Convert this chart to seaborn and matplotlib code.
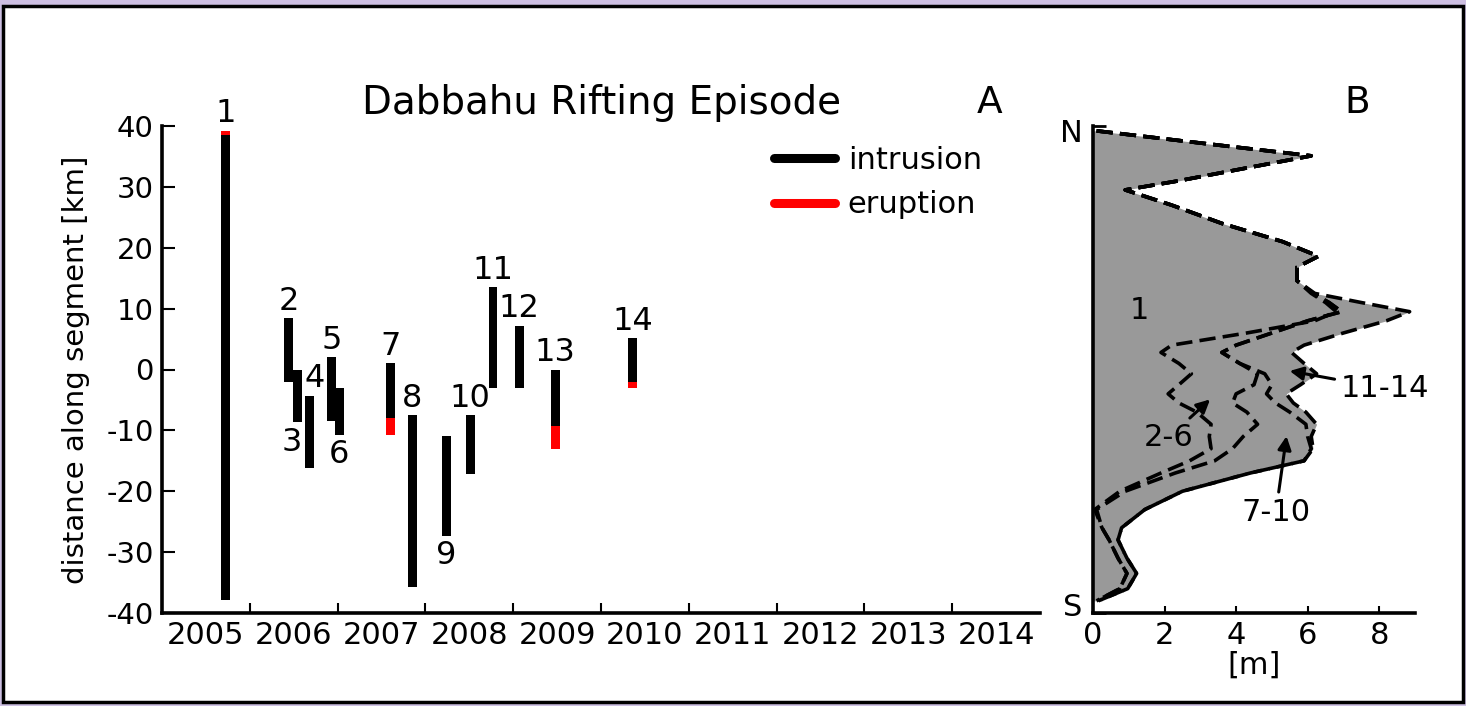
import numpy as np
import matplotlib
matplotlib.use('Agg')
import matplotlib.pyplot as plt
import seaborn as sns
from matplotlib.lines import Line2D
from matplotlib.patches import Rectangle

# --- panel A: dyke intrusions along the segment ---
episodes = [1, 2, 3, 4, 5, 6, 7, 8, 9, 10, 11, 12, 13, 14]
dates = [2005.72, 2006.44, 2006.54, 2006.68, 2006.93, 2007.02, 2007.60,
         2007.85, 2008.24, 2008.51, 2008.77, 2009.07, 2009.48, 2010.36]
dyke_top = [39.2, 8.4, 0.0, -4.3, 2.0, -3.1, 1.0, -7.5, -11.0, -7.5, 13.5, 7.2, 0.0, 5.1]
dyke_bottom = [-37.9, -2.1, -8.7, -16.1, -8.5, -10.8, -10.8, -35.7, -27.4, -17.1,
               -3.1, -3.1, -13.1, -3.1]
erupt_hi = [39.2, np.nan, np.nan, np.nan, np.nan, np.nan, -8.0, np.nan, np.nan,
            np.nan, np.nan, np.nan, -9.2, -2.1]
erupt_lo = [38.6, np.nan, np.nan, np.nan, np.nan, np.nan, -10.8, np.nan, np.nan,
            np.nan, np.nan, np.nan, -13.1, -3.1]
label_side = ['top', 'top', 'bottom', 'top', 'top', 'bottom', 'top', 'top', 'bottom',
              'top', 'top', 'top', 'top', 'top']
years = [str(y) for y in range(2005, 2015)]

# --- panel B: cumulative opening profiles [m] ---
prof_y = [39.2, 37, 35.1, 33, 31, 29.5, 27, 24, 21, 18.6,
          16.8, 14.6, 12.5, 11, 9.5, 8, 6, 4, 2.8, 1,
          -0.7, -2.5, -4, -5.5, -7, -9, -11, -13, -15, -17,
          -20, -23, -26, -28, -31, -33.5, -36, -38]
open_1 = [0.1, 3.3, 6.1, 4.2, 2.4, 0.9, 2.2, 3.6, 5.3, 6.3,
          5.7, 5.7, 6.1, 6.5, 6.8, 6.2, 4.3, 2.2, 1.9, 2.4,
          2.75, 2.4, 2.1, 2.4, 2.9, 3.3, 3.25, 3.3, 2.7, 1.9,
          0.75, 0.05, 0.25, 0.45, 0.7, 0.95, 0.75, 0.1]
open_1_6 = [0.1, 3.3, 6.1, 4.2, 2.4, 0.9, 2.2, 3.6, 5.3, 6.3,
            5.7, 5.7, 6.15, 6.6, 6.95, 6.0, 5.0, 4.0, 3.6, 4.1,
            4.6, 4.5, 4.0, 3.9, 4.3, 4.6, 4.2, 3.9, 3.4, 2.3,
            0.9, 0.1, 0.25, 0.45, 0.7, 0.95, 0.75, 0.1]
open_1_10 = [0.1, 3.3, 6.1, 4.2, 2.4, 0.9, 2.2, 3.6, 5.3, 6.3,
             5.7, 5.7, 6.15, 6.6, 6.95, 6.0, 5.0, 4.0, 3.6, 4.1,
             4.8, 5.0, 4.85, 5.1, 5.5, 5.95, 6.0, 6.1, 5.9, 4.4,
             2.5, 1.45, 0.8, 0.7, 0.95, 1.22, 0.97, 0.15]
open_1_14 = [0.1, 3.3, 6.1, 4.2, 2.4, 0.9, 2.2, 3.6, 5.3, 6.3,
             5.7, 5.7, 6.2, 7.5, 8.85, 8.2, 7.0, 5.9, 5.55, 5.9,
             6.25, 5.8, 5.4, 5.6, 5.95, 6.25, 6.1, 6.15, 5.9, 4.4,
             2.5, 1.45, 0.8, 0.7, 0.95, 1.22, 0.97, 0.15]

sns.set_style('ticks')
plt.rcParams['font.family'] = ['DejaVu Sans']
plt.rcParams.update({'text.color': 'black', 'axes.labelcolor': 'black',
                     'xtick.color': 'black', 'ytick.color': 'black',
                     'axes.edgecolor': 'black', 'axes.linewidth': 2.6,
                     'axes.unicode_minus': False})

W, H = 1466, 706
fig = plt.figure(figsize=(W / 100, H / 100), dpi=100)
fig.patch.set_facecolor('#cdbfe2')
fig.add_artist(Rectangle((3 / W, 4 / H), 1460 / W, 696 / H, transform=fig.transFigure,
                         facecolor='white', edgecolor='black', lw=2.5, zorder=-1))

# panel A
axA = fig.add_axes([162 / W, 93 / H, 878 / W, 487 / H])
dates_a = np.array(dates)
top_a = np.array(dyke_top)
bot_a = np.array(dyke_bottom)
axA.bar(dates_a, top_a - bot_a, bottom=bot_a, width=0.1, color='black', lw=0)
hi = np.array(erupt_hi)
lo = np.array(erupt_lo)
m = ~np.isnan(hi)
axA.bar(dates_a[m], hi[m] - lo[m], bottom=lo[m], width=0.1, color='red', lw=0)

for ep, d, t, b, side in zip(episodes, dates, dyke_top, dyke_bottom, label_side):
    if side == 'top':
        dx = 0.06 if ep == 4 else 0.0
        axA.annotate(str(ep), (d + dx, t), xytext=(0, 1), textcoords='offset points',
                     ha='center', va='bottom', fontsize=23)
    else:
        dx = -0.06 if ep == 3 else 0.0
        axA.annotate(str(ep), (d + dx, b), xytext=(0, -3), textcoords='offset points',
                     ha='center', va='top', fontsize=23)

axA.set_xlim(2005, 2015)
axA.set_ylim(-40, 40)
axA.set_xticks(range(2006, 2015))
axA.set_xticklabels([])
axA.set_xticks(np.arange(2005.5, 2015, 1), minor=True)
axA.set_xticklabels(years, minor=True, fontsize=22)
axA.tick_params(axis='x', which='major', direction='in', length=7, width=1.5)
axA.tick_params(axis='x', which='minor', length=0, pad=6)
axA.set_yticks(range(-40, 41, 10))
axA.tick_params(axis='y', direction='in', length=9, width=1.5, labelsize=21, pad=6)
axA.set_ylabel('distance along segment [km]', fontsize=21)
axA.yaxis.set_label_coords(-0.082, 0.5)
sns.despine(ax=axA)

handles = [Line2D([], [], color='black', lw=6.5), Line2D([], [], color='red', lw=6.5)]
axA.legend(handles, ['intrusion', 'eruption'], frameon=False, fontsize=22,
           loc='upper left', bbox_to_anchor=(0.68, 0.99), handlelength=2.0,
           handletextpad=0.4, labelspacing=0.5, borderpad=0)

fig.text(602 / W, 1 - 103 / H, 'Dabbahu Rifting Episode', fontsize=28,
         ha='center', va='center')
fig.text(990 / W, 1 - 103 / H, 'A', fontsize=27, ha='center', va='center')
fig.text(1357 / W, 1 - 103 / H, 'B', fontsize=27, ha='center', va='center')

# panel B
axB = fig.add_axes([1093 / W, 93 / H, 322 / W, 487 / H])
axB.fill_betweenx(prof_y, 0, open_1_14, color='#999999', lw=0)
for prof in [open_1, open_1_6, open_1_10, open_1_14]:
    sns.lineplot(x=prof, y=prof_y, sort=False, estimator=None, ax=axB,
                 color='black', lw=2.6, linestyle=(0, (4.5, 2)))
axB.set_xlim(0, 9)
axB.set_ylim(-40, 40)
axB.set_xticks([0, 2, 4, 6, 8])
axB.set_yticks(range(-40, 41, 10))
axB.set_yticklabels([])
axB.tick_params(axis='y', direction='in', length=9, width=2)
axB.tick_params(axis='x', direction='in', length=5, width=1.5, labelsize=22, pad=6)
axB.set_xlabel('[m]', fontsize=22, labelpad=0)
sns.despine(ax=axB)
axB.text(-0.3, 38.7, 'N', fontsize=22, ha='right', va='center', clip_on=False)
axB.text(-0.3, -39.1, 'S', fontsize=22, ha='right', va='center', clip_on=False)

axB.text(1.3, 9.7, '1', fontsize=22, ha='center', va='center')
arrow = dict(arrowstyle='-|>', color='black', lw=2.2, mutation_scale=20)
axB.annotate('11-14', xy=(5.42, -0.16), xytext=(6.92, -3.1), fontsize=22,
             ha='left', va='center', arrowprops=arrow, annotation_clip=False)
axB.annotate('2-6', xy=(3.33, -4.6), xytext=(2.11, -11.2), fontsize=22,
             ha='center', va='center', arrowprops=arrow)
axB.annotate('7-10', xy=(5.42, -10.5), xytext=(5.11, -23.5), fontsize=22,
             ha='center', va='center', arrowprops=arrow)

fig.savefig('out.png', dpi=100, facecolor=fig.get_facecolor())
